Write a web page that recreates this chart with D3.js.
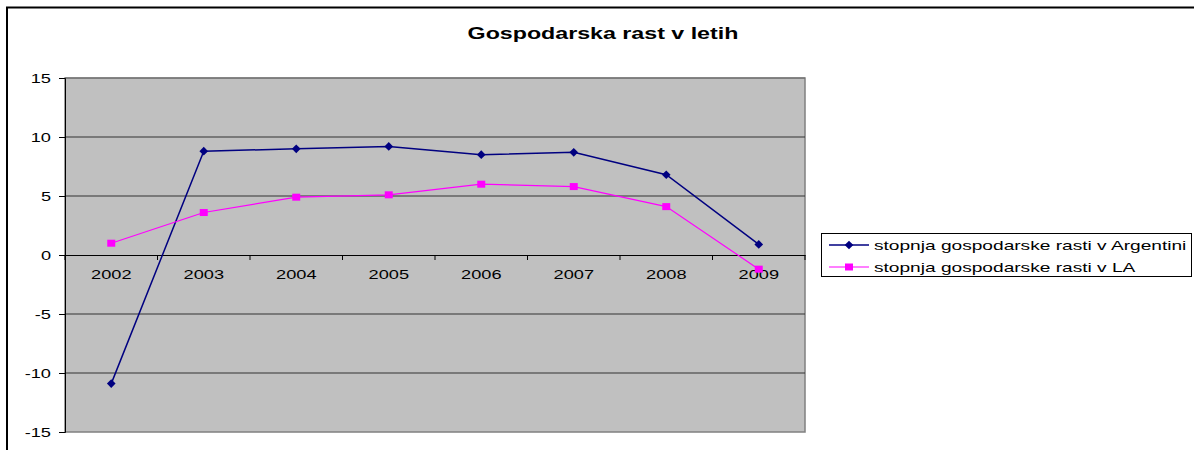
<!DOCTYPE html>
<html><head><meta charset="utf-8">
<script src="https://cdn.jsdelivr.net/npm/d3@7"></script>
<style>body{margin:0;background:#fff}svg{display:block}text{font-family:"Liberation Sans",Arial,sans-serif}</style>
</head><body><svg id="c" width="1194" height="450"></svg>
<script>
const years = ["2002","2003","2004","2005","2006","2007","2008","2009"];
const argentina = [-10.9, 8.8, 9.0, 9.2, 8.5, 8.7, 6.8, 0.9];
const la = [1.0, 3.6, 4.9, 5.1, 6.0, 5.8, 4.1, -1.2];
const yTicks = [-15, -10, -5, 0, 5, 10, 15];
const seriesNames = ["stopnja gospodarske rasti v Argentini", "stopnja gospodarske rasti v LA"];
const title = "Gospodarska rast v letih";

const svg = d3.select("#c");
const L = 65, R = 805, T = 78, B = 432;
const x = d3.scaleBand().domain(years).range([L, R]).padding(0);
const y = d3.scaleLinear().domain([-15, 15]).range([B, T]);

// horizontally stretched text as in the reference
function stretch(sel, k) {
  sel.each(function() {
    const w = this.getComputedTextLength();
    d3.select(this).attr("textLength", w * k).attr("lengthAdjust", "spacingAndGlyphs");
  });
}

// outer border
svg.append("path").attr("d", `M7,450 V7.5 H1194`).attr("fill","none").attr("stroke","#000").attr("stroke-width",2);

const tt = svg.append("text").attr("x", 603).attr("y", 38.5).attr("text-anchor","middle")
  .attr("font-weight","bold").attr("font-size", 16).text(title);
stretch(tt, 1.45);

// plot area
svg.append("rect").attr("x", L).attr("y", T).attr("width", R-L).attr("height", B-T)
  .attr("fill","#c0c0c0").attr("stroke","#808080").attr("stroke-width",1.5);

// gridlines
svg.append("g").selectAll("line").data(yTicks.filter(d=>d!==0 && d!==-15 && d!==15)).join("line")
  .attr("x1", L).attr("x2", R).attr("y1", d=>y(d)).attr("y2", d=>y(d))
  .attr("stroke","#333").attr("stroke-width",1);
svg.append("line").attr("x1", L).attr("x2", R).attr("y1", y(15)).attr("y2", y(15)).attr("stroke","#6a6a6a").attr("stroke-width",1);

// y axis
const yAxis = d3.axisLeft(y).tickValues(yTicks).tickSize(6).tickPadding(8).tickFormat(d => d < 0 ? "-" + Math.abs(d) : d);
const gy = svg.append("g").attr("transform", `translate(${L},0)`).call(yAxis);
gy.select(".domain").attr("stroke","#000");
gy.selectAll(".tick line").attr("stroke","#000");
gy.selectAll("text").attr("font-size", 13).attr("fill","#000").style("font-family","Liberation Sans, Arial, sans-serif");
stretch(gy.selectAll("text"), 1.4);

// x axis at zero
const xAxis = d3.axisBottom(x).tickSize(0).tickPadding(15);
const gx = svg.append("g").attr("transform", `translate(0,${y(0)})`).call(xAxis);
gx.select(".domain").attr("stroke","#000");
gx.selectAll("text").attr("font-size", 13).attr("fill","#000").style("font-family","Liberation Sans, Arial, sans-serif");
stretch(gx.selectAll("text"), 1.4);
svg.append("g").selectAll("line").data(years.concat(["end"])).join("line")
  .attr("x1", (d,i)=> L + i*x.bandwidth()).attr("x2", (d,i)=> L + i*x.bandwidth())
  .attr("y1", y(0)).attr("y2", y(0)+5).attr("stroke","#000");

const cx = d => x(d) + x.bandwidth()/2;
const line = d3.line().x((d,i)=>cx(years[i])).y(d=>y(d));

svg.append("path").datum(argentina).attr("d", line).attr("fill","none").attr("stroke","#000080").attr("stroke-width",1.5);
svg.append("path").datum(la).attr("d", line).attr("fill","none").attr("stroke","#ff00ff").attr("stroke-width",1.2);

const diamond = d3.symbol().type(d3.symbolDiamond2).size(48);
svg.append("g").selectAll("path").data(argentina).join("path")
  .attr("transform",(d,i)=>`translate(${cx(years[i])},${y(d)})`).attr("d", diamond).attr("fill","#000080");
svg.append("g").selectAll("rect").data(la).join("rect")
  .attr("x",(d,i)=>cx(years[i])-4).attr("y", d=>y(d)-3.5).attr("width",8).attr("height",7).attr("fill","#ff00ff");

// legend
const lg = svg.append("g");
lg.append("rect").attr("x", 821.5).attr("y", 233.5).attr("width", 370).attr("height", 43).attr("fill","#fff").attr("stroke","#000").attr("stroke-width",1);
const colors = ["#000080", "#ff00ff"];
seriesNames.forEach((n,i) => {
  const yy = 245 + i*22;
  lg.append("line").attr("x1", 829).attr("x2", 869).attr("y1", yy).attr("y2", yy).attr("stroke", colors[i]).attr("stroke-width", i===0?1.5:1.2);
  if (i===0) lg.append("path").attr("transform",`translate(849,${yy})`).attr("d", diamond).attr("fill", colors[i]);
  else lg.append("rect").attr("x", 845).attr("y", yy-3.5).attr("width", 8).attr("height", 7).attr("fill", colors[i]);
  const t = lg.append("text").attr("x", 874).attr("y", yy+4.5).attr("font-size", 13).text(n);
  stretch(t, 1.47);
});
</script></body></html>
